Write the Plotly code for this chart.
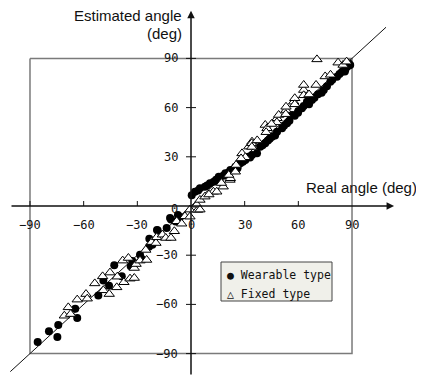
import plotly.graph_objects as go

# ---- data ----
wear_x = [-85.7, -79.4, -74.2, -74.7, -64.7, -63.6, -51.8, -49.0, -45.8, -42.9, -38.7, -33.7,
          -32.8, -28.5, -27.6, -23.5, -23.3, -21.6, -19.0, -18.6, -13.6, -11.7, -11.2, -8.6,
          -7.3, -6.1, 0.4, 2.2, 5.0, 7.8, 10.6, 12.7, 15.5, 16.0, 19.2, 22.0, 24.8, 26.0,
          27.6, 30.4, 32.0, 34.1, 36.9, 38.7, 41.5, 43.0, 45.3, 47.0, 48.1, 50.9, 53.7,
          55.0, 56.5, 59.8, 60.0, 62.0, 64.8, 66.0, 67.6, 71.0, 74.2, 77.9, 81.6, 84.4,
          86.3, 87.2, 88.1,
          4.0, 9.0, 14.0, 18.0, 21.0, 29.0, 33.0, 40.0, 44.0, 52.0, 58.0, 63.0, 69.0,
          73.0, 76.0, 79.0, 83.0, 86.0, 88.0, 89.0]
wear_y = [-82.9, -76.4, -72.6, -79.9, -62.6, -68.3, -54.5, -45.5, -48.6, -36.2, -42.9, -36.8,
          -33.5, -29.7, -32.1, -24.8, -19.9, -23.6, -14.6, -15.0, -13.4, -7.3, -8.3, -9.4,
          -5.5, -6.7, 6.5, 8.7, 10.8, 11.8, 13.8, 14.8, 17.9, 15.0, 19.9, 22.0, 24.0, 23.0,
          26.0, 28.0, 30.0, 31.1, 32.1, 36.2, 38.2, 40.0, 42.3, 43.0, 45.3, 47.4, 50.4,
          52.0, 55.5, 56.9, 58.0, 59.6, 63.6, 62.0, 64.6, 68.1, 70.7, 75.8, 78.8, 81.9,
          83.3, 84.9, 87.0,
          9.5, 12.5, 16.0, 18.5, 20.5, 27.0, 29.5, 37.0, 41.0, 49.0, 55.0, 61.0, 66.0,
          69.0, 73.0, 77.0, 80.5, 82.0, 85.5, 86.0]

fixed_x = [-70.8, -68.6, -67.3, -63.6, -58.7, -58.0, -53.8, -49.4, -49.0, -45.7, -45.3, -41.5,
           -41.2, -38.2, -37.5, -35.0, -34.1, -31.7, -31.7, -30.7, -28.5, -25.3, -24.8, -22.0,
           -19.6, -19.2, -16.0, -14.1, -11.2, -9.3, -8.0, -5.2, -3.4, -0.6, -0.6, 3.7, 3.2,
           5.0, 5.0, 7.8, 12.5, 14.4, 18.0, 21.8, 22.0, 21.1, 24.8, 25.2, 28.5, 30.4, 32.3,
           34.1, 33.9, 41.5, 42.5, 48.1, 49.0, 53.1, 53.1, 57.4, 58.0, 63.0, 63.0, 69.9,
           70.4, 82.2,
           63.0, 58.0, 53.0, 48.0, 42.0, 34.0, 28.0, 17.0, 10.0, 37.0, 45.0, 66.0, 75.0,
           78.0, 85.0, 87.0]
fixed_y = [-66.9, -61.8, -65.9, -57.1, -53.7, -56.5, -47.2, -42.9, -51.4, -53.7, -40.6, -49.6,
           -43.1, -33.3, -46.5, -31.7, -44.3, -43.9, -37.8, -35.4, -33.3, -26.8, -32.9, -22.0,
           -22.6, -19.1, -17.5, -19.5, -19.5, -15.4, -9.3, -10.8, -6.3, -2.2, -6.5, -2.4, 0.8,
           -2.2, 3.7, 5.7, 8.7, 8.7, 11.8, 15.9, 16.9, 18.9, 20.9, 25.0, 32.1, 29.7, 36.2,
           39.2, 38.2, 49.4, 47.4, 53.5, 55.5, 58.5, 60.5, 63.6, 65.7, 70.7, 73.8, 73.8,
           89.4, 87.4,
           67.5, 62.0, 56.0, 51.0, 45.0, 36.0, 29.0, 14.0, 7.0, 40.0, 50.0, 68.0, 79.0,
           80.0, 86.0, 88.0]

diag_x = [-101, 109]
diag_y = [-101, 109]

box_x = [-90, 90, 90, -90, -90]
box_y = [90, 90, -90, -90, 90]

x_ticks = [-90, -60, -30, 30, 60]
x_label_pos = [-90, -60, -30, 0, 30, 60, 90]
x_tick_labels = ["−90", "−60", "−30", "0", "30", "60", "90"]
y_ticks = [90, 60, 30, -30, -60, -90]
y_tick_labels = ["90", "60", "30", "−30", "−60", "−90"]

# page has an 8px body margin; figure is placed at (8, 8)
OFF = 8
W, H = 424 - OFF, 376 - OFF
SX, SY = 1.789, 1.64          # pixels per degree
OX, OY = 191 - OFF, 206 - OFF  # origin in figure pixels
XR = [-OX / SX, (W - OX) / SX]
YR = [(OY - H) / SY, OY / SY]
px_x = 1 / SX
px_y = 1 / SY


def fx(p):  # screen pixel -> paper x
    return (p - OFF) / W


def fy(p):  # screen pixel -> paper y
    return 1 - (p - OFF) / H


tick_font = dict(family="DejaVu Sans Mono", size=12, color="#111")
title_font = dict(family="Liberation Sans, Arial", size=15, color="#111")

fig = go.Figure()

# box
fig.add_trace(go.Scatter(x=box_x, y=box_y, mode="lines",
                         line=dict(color="#7a7a7a", width=1.5),
                         hoverinfo="skip", showlegend=False))
# diagonal
fig.add_trace(go.Scatter(x=diag_x, y=diag_y, mode="lines",
                         line=dict(color="#111", width=1),
                         hoverinfo="skip", showlegend=False))
# data
fig.add_trace(go.Scatter(x=wear_x, y=wear_y, mode="markers", name="Wearable type",
                         marker=dict(symbol="circle", size=8, color="black"),
                         showlegend=False))
fig.add_trace(go.Scatter(x=fixed_x, y=fixed_y, mode="markers", name="Fixed type",
                         marker=dict(symbol="triangle-up", size=9, color="white",
                                     line=dict(color="black", width=1)),
                         showlegend=False))

annotations = []
shapes = []

# axes with arrows
annotations.append(dict(x=113.5, y=0, ax=XR[0] + 2 * px_x, ay=0, xref="x", yref="y",
                        axref="x", ayref="y", showarrow=True, arrowhead=2,
                        arrowsize=1, arrowwidth=1.5, arrowcolor="#111", text=""))
annotations.append(dict(x=0, y=119.0, ax=0, ay=YR[0], xref="x", yref="y",
                        axref="x", ayref="y", showarrow=True, arrowhead=2,
                        arrowsize=1, arrowwidth=1.5, arrowcolor="#111", text=""))

# x ticks (upward) and labels
for t in x_ticks:
    shapes.append(dict(type="line", xref="x", yref="y", x0=t, x1=t, y0=0,
                       y1=5 * px_y, line=dict(color="#111", width=1)))
for t, lab in zip(x_label_pos, x_tick_labels):
    annotations.append(dict(x=t, y=-19 * px_y, xref="x", yref="y", text=lab,
                            showarrow=False, font=tick_font,
                            xanchor="center", yanchor="middle"))

# y ticks (crossing) and labels
for t, lab in zip(y_ticks, y_tick_labels):
    shapes.append(dict(type="line", xref="x", yref="y", x0=-5 * px_x, x1=5 * px_x,
                       y0=t, y1=t, line=dict(color="#111", width=1)))
    annotations.append(dict(x=-11 * px_x, y=t, xref="x", yref="y", text=lab,
                            showarrow=False, font=tick_font,
                            xanchor="right", yanchor="middle"))
annotations.append(dict(x=-11 * px_x, y=-3 * px_y, xref="x", yref="y", text="0",
                        showarrow=False, font=tick_font,
                        xanchor="right", yanchor="middle"))

# axis titles
annotations.append(dict(x=fx(184), y=fy(16), xref="paper", yref="paper",
                        text="Estimated angle", showarrow=False, font=title_font,
                        xanchor="right", yanchor="middle"))
annotations.append(dict(x=fx(184), y=fy(34), xref="paper", yref="paper",
                        text="(deg)", showarrow=False, font=title_font,
                        xanchor="right", yanchor="middle"))
annotations.append(dict(x=fx(304), y=fy(187), xref="paper", yref="paper",
                        text="Real angle (deg)", showarrow=False, font=title_font,
                        xanchor="left", yanchor="middle"))

# legend box
legend_font = dict(family="DejaVu Sans Mono", size=11.5, color="#111")
shapes.append(dict(type="rect", xref="paper", yref="paper",
                   x0=fx(221), x1=fx(332), y0=fy(301), y1=fy(262),
                   fillcolor="#f0f0ea", line=dict(color="#444", width=1), layer="above"))
annotations.append(dict(x=fx(225), y=fy(275), xref="paper", yref="paper",
                        text="● Wearable type", showarrow=False, font=legend_font,
                        xanchor="left", yanchor="middle"))
annotations.append(dict(x=fx(225), y=fy(294), xref="paper", yref="paper",
                        text="△ Fixed type", showarrow=False, font=legend_font,
                        xanchor="left", yanchor="middle"))

fig.update_layout(
    width=W, height=H,
    margin=dict(l=0, r=0, t=0, b=0),
    paper_bgcolor="white", plot_bgcolor="white",
    xaxis=dict(range=XR, visible=False, fixedrange=True),
    yaxis=dict(range=YR, visible=False, fixedrange=True),
    shapes=shapes, annotations=annotations,
    showlegend=False,
)

fig.write_html("out.html")
